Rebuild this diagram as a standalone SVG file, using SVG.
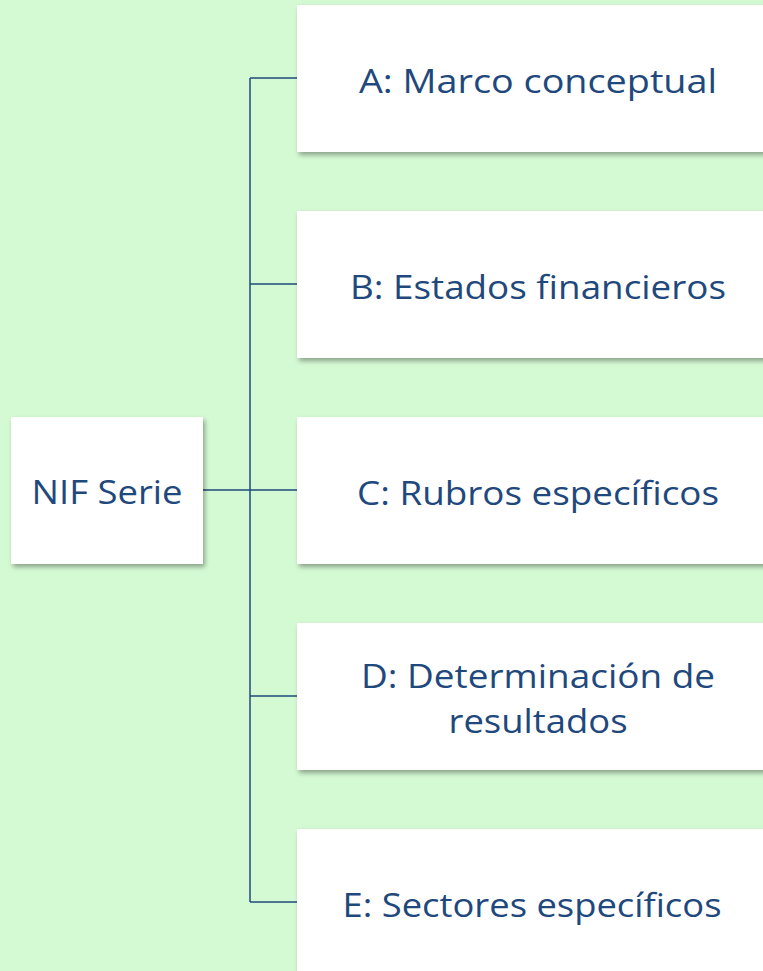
<svg xmlns="http://www.w3.org/2000/svg" width="763" height="971" viewBox="0 0 763 971">
<defs>
<filter id="sh" x="-10%" y="-10%" width="130%" height="130%">
<feDropShadow dx="2" dy="3" stdDeviation="2.5" flood-color="#000" flood-opacity="0.35"/>
</filter>
<style>
.box{fill:#ffffff;filter:url(#sh);}
.t{font-family:"Open Sans","Liberation Sans",sans-serif;font-size:32px;fill:#1f497d;text-anchor:middle;}
.ln{stroke:#1f497d;stroke-width:1.5;fill:none;}
</style>
</defs>
<rect x="0" y="0" width="763" height="971" fill="#d4fad3"/>
<g id="connectors">
<line class="ln" x1="203" y1="490" x2="250" y2="490" stroke-width="2.2"/>
<line class="ln" x1="250" y1="78" x2="250" y2="902"/>
<line class="ln" x1="250" y1="78" x2="298" y2="78"/>
<line class="ln" x1="250" y1="284" x2="298" y2="284"/>
<line class="ln" x1="250" y1="490" x2="298" y2="490"/>
<line class="ln" x1="250" y1="696" x2="298" y2="696"/>
<line class="ln" x1="250" y1="902" x2="298" y2="902"/>
</g>
<g id="nif">
<rect class="box" x="11" y="417" width="192" height="147"/>
<text class="t" x="107" y="504" textLength="151" lengthAdjust="spacingAndGlyphs">NIF Serie</text>
</g>
<g id="a">
<rect class="box" x="297" y="5" width="490" height="147"/>
<text class="t" x="538" y="93" textLength="358" lengthAdjust="spacingAndGlyphs">A: Marco conceptual</text>
</g>
<g id="b">
<rect class="box" x="297" y="211" width="490" height="147"/>
<text class="t" x="538" y="299" textLength="376" lengthAdjust="spacingAndGlyphs">B: Estados financieros</text>
</g>
<g id="c">
<rect class="box" x="297" y="417" width="490" height="147"/>
<text class="t" x="538" y="505" textLength="362" lengthAdjust="spacingAndGlyphs">C: Rubros específicos</text>
</g>
<g id="d">
<rect class="box" x="297" y="623" width="490" height="147"/>
<text class="t" x="538" y="688" textLength="354" lengthAdjust="spacingAndGlyphs">D: Determinación de</text>
<text class="t" x="538" y="733" textLength="179" lengthAdjust="spacingAndGlyphs">resultados</text>
</g>
<g id="e">
<rect class="box" x="297" y="829" width="490" height="160"/>
<text class="t" x="532" y="917" textLength="379" lengthAdjust="spacingAndGlyphs">E: Sectores específicos</text>
</g>
</svg>
